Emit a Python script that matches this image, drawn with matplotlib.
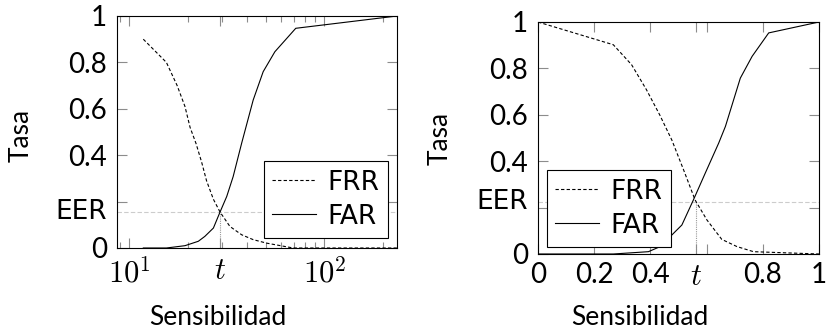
import matplotlib

matplotlib.use("Agg")
import matplotlib.pyplot as plt
from matplotlib.ticker import NullFormatter
from matplotlib.transforms import offset_copy

plt.rcParams["mathtext.fontset"] = "cm"
plt.rcParams["font.family"] = ["Lato", "DejaVu Sans"]

# Left panel: logarithmic sensitivity axis
frr_x_log = [11.8, 15.5, 17.6, 19.3, 20.5, 22.0, 23.5, 24.9, 27.0, 29.2,
             32.8, 37.7, 43.2, 50.6, 69.3, 236.0]
frr_y_log = [0.90, 0.80, 0.70, 0.61, 0.52, 0.45, 0.37, 0.29, 0.21, 0.155,
             0.093, 0.057, 0.036, 0.021, 0.0, 0.0]
far_x_log = [11.8, 15.5, 19.3, 22.6, 24.4, 27.0, 29.2, 31.6, 34.1, 37.7,
             43.2, 48.6, 55.8, 71.4, 236.0]
far_y_log = [0.0, 0.0, 0.010, 0.029, 0.050, 0.086, 0.155, 0.222, 0.308, 0.452,
             0.638, 0.760, 0.846, 0.947, 1.0]
eer_log = 0.155
t_log = 29.2
xlim_log = (8.65, 236.0)

# Right panel: linear sensitivity axis
frr_x_lin = [0.0, 0.268, 0.333, 0.386, 0.433, 0.476, 0.518, 0.559, 0.601,
             0.654, 0.708, 0.767, 1.0]
frr_y_lin = [1.0, 0.902, 0.816, 0.708, 0.600, 0.492, 0.363, 0.233, 0.147,
             0.063, 0.032, 0.010, 0.0]
far_x_lin = [0.0, 0.268, 0.393, 0.435, 0.512, 0.553, 0.595, 0.643, 0.667,
             0.720, 0.762, 0.821, 1.0]
far_y_lin = [0.0, 0.0, 0.010, 0.032, 0.125, 0.233, 0.348, 0.478, 0.550,
             0.758, 0.852, 0.953, 1.0]
eer_lin = 0.225
t_lin = 0.561

y_ticks = [0, 0.2, 0.4, 0.6, 0.8, 1]
y_tick_labels = ["0", "", "0.4", "0.6", "0.8", "1"]

TICK_COLOR = "#8c8c8c"
LEGEND_FONT = {"family": "DejaVu Sans", "size": 19}


def style_axes(ax, eer, t, frr_x, frr_y, far_x, far_y):
    ax.axhline(eer, color="#cccccc", linewidth=0.8, dashes=(4, 2), zorder=1)
    ax.vlines(t, 0, eer, color="#999999", linewidth=0.8,
              linestyles=(0, (1, 1)), zorder=1)

    ax.plot(frr_x, frr_y, color="black", linewidth=0.8, dashes=(3, 2),
            label="FRR", zorder=2)
    ax.plot(far_x, far_y, color="black", linewidth=0.8,
            label="FAR", zorder=2)

    ax.set_ylim(0, 1)
    ax.set_yticks(y_ticks, labels=y_tick_labels)

    ax.tick_params(which="both", direction="in", top=True, right=True,
                   color=TICK_COLOR, width=0.8, labelsize=20)
    ax.tick_params(which="major", length=7.5)
    ax.tick_params(which="minor", length=4.3)
    ax.tick_params(axis="y", which="both", pad=7)
    ax.tick_params(axis="x", which="both", pad=6)

    # EER label sits on the y axis like a tick label, in a wider face
    eer_tf = offset_copy(ax.get_yaxis_transform(), fig=ax.figure, x=-7, y=0,
                         units="points")
    ax.text(0, eer, "EER", transform=eer_tf, ha="right", va="center",
            fontfamily="DejaVu Sans", fontsize=19)

    for spine in ax.spines.values():
        spine.set_linewidth(0.8)

    ax.set_ylabel("Tasa", fontsize=19, va="baseline")
    ax.set_xlabel("Sensibilidad", fontsize=19, va="baseline")


fig = plt.figure(figsize=(8.26, 3.29), dpi=100)
ax_log = fig.add_axes([117 / 826, 81 / 329, 280 / 826, 232 / 329])
ax_lin = fig.add_axes([538 / 826, 75 / 329, 281 / 826, 232 / 329])

# Left panel
ax_log.set_xscale("log")
style_axes(ax_log, eer_log, t_log, frr_x_log, frr_y_log, far_x_log, far_y_log)
ax_log.set_xlim(*xlim_log)
ax_log.set_xticks([10, t_log, 100], labels=[r"$10^{1}$", r"$t$", r"$10^{2}$"],
                  fontsize=22)
ax_log.xaxis.set_minor_formatter(NullFormatter())
ax_log.yaxis.set_label_coords(-0.317, 0.487)
ax_log.xaxis.set_label_coords(0.361, -0.332)
leg = ax_log.legend(loc="lower right", bbox_to_anchor=(0.968, 0.043),
                    borderaxespad=0, prop=LEGEND_FONT,
                    frameon=True, fancybox=False, edgecolor="black", framealpha=1,
                    handlelength=1.65, handletextpad=0.45, borderpad=0.32,
                    labelspacing=0.3)
leg.get_frame().set_linewidth(0.8)

# Right panel
style_axes(ax_lin, eer_lin, t_lin, frr_x_lin, frr_y_lin, far_x_lin, far_y_lin)
ax_lin.set_xlim(0, 1)
ax_lin.set_xticks([0, 0.2, 0.4, t_lin, 0.6, 0.8, 1],
                  labels=["0", "0.2", "0.4", r"$t$", "", "0.8", "1"])
ax_lin.get_xticklabels()[3].set_fontsize(22)
ax_lin.yaxis.set_label_coords(-0.32, 0.498)
ax_lin.xaxis.set_label_coords(0.363, -0.306)
leg = ax_lin.legend(loc="lower left", bbox_to_anchor=(0.032, 0.03),
                    borderaxespad=0, prop=LEGEND_FONT,
                    frameon=True, fancybox=False, edgecolor="black", framealpha=1,
                    handlelength=1.65, handletextpad=0.45, borderpad=0.32,
                    labelspacing=0.3)
leg.get_frame().set_linewidth(0.8)

fig.savefig("out.png", dpi=100)
